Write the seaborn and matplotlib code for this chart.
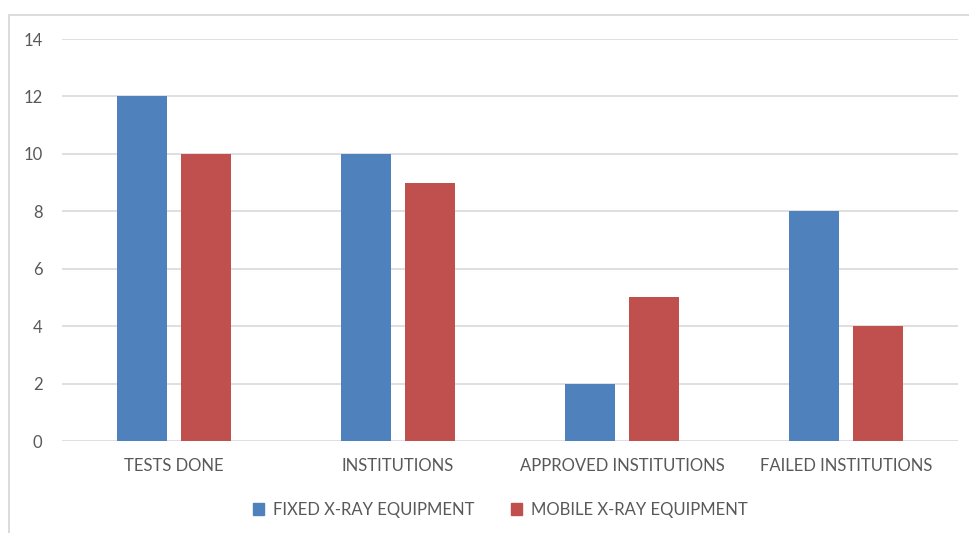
import matplotlib
matplotlib.use("Agg")
import matplotlib.pyplot as plt
from matplotlib.patches import Rectangle
import seaborn as sns
import pandas as pd

categories = ["TESTS DONE", "INSTITUTIONS", "APPROVED INSTITUTIONS", "FAILED INSTITUTIONS"]
fixed_values = [12, 10, 2, 8]
mobile_values = [10, 9, 5, 4]
series_names = ["FIXED X-RAY EQUIPMENT", "MOBILE X-RAY EQUIPMENT"]
y_ticks = [0, 2, 4, 6, 8, 10, 12, 14]

df = pd.DataFrame({
    "category": categories * 2,
    "value": fixed_values + mobile_values,
    "series": [series_names[0]] * len(categories) + [series_names[1]] * len(categories),
})

sns.set_theme(style="white")
plt.rcParams["font.family"] = ["Lato", "DejaVu Sans"]

text_color = "#595959"
grid_color = "#D9D9D9"
palette = {series_names[0]: "#4F81BD", series_names[1]: "#C0504D"}

W, H = 969, 533
fig = plt.figure(figsize=(W / 100, H / 100), dpi=100)
ax = fig.add_axes([62 / W, 1 - 441 / H, (958 - 62) / W, (441 - 39) / H])

# outer chart frame (clipped at right and bottom)
fig.patches.append(Rectangle((9 / W, -0.2), 1.2, 1.2 - 15 / H,
                             transform=fig.transFigure, fill=False,
                             edgecolor=grid_color, linewidth=1.3, zorder=0))

sns.barplot(data=df, x="category", y="value", hue="series", palette=palette,
            width=0.58, gap=0.23, saturation=1, linewidth=0, edgecolor="none",
            ax=ax, zorder=3)

ax.set_xlim(-0.5, 3.5)
ax.set_ylim(0, 14)
ax.set_yticks(y_ticks)
ax.grid(axis="y", color=grid_color, linewidth=1.2, zorder=0)
ax.set_axisbelow(True)
for s in ax.spines.values():
    s.set_visible(False)
ax.set_xlabel("")
ax.set_ylabel("")
ax.tick_params(axis="both", length=0, labelsize=12, colors=text_color)
ax.tick_params(axis="y", pad=14)
ax.tick_params(axis="x", pad=12)

ax.get_legend().remove()
handles = [Rectangle((0, 0), 1, 1, color=palette[n]) for n in series_names]
fig.legend(handles, series_names, loc="center", bbox_to_anchor=(500 / W, 1 - 510 / H),
           ncol=2, frameon=False, fontsize=12, labelcolor=text_color,
           handlelength=0.7, handleheight=0.7, handletextpad=0.5, columnspacing=2.2)

fig.savefig("out.png", dpi=100)
